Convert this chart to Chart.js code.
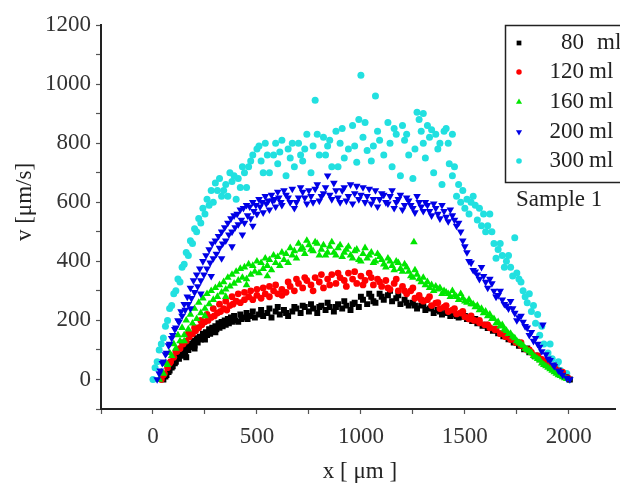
<!DOCTYPE html>
<html><head><meta charset="utf-8">
<script src="https://cdn.jsdelivr.net/npm/chart.js@4.4.0/dist/chart.umd.min.js"></script>
<style>html,body{margin:0;padding:0;background:#fff;} #wrap{width:620px;height:487px;position:relative;}</style>
</head><body><div id="wrap"><canvas id="c" width="620" height="487"></canvas></div>
<script>
const seriesLabels = ['80', '120', '160', '200', '300'];
const unitLabel = 'ml';
const sampleLabel = 'Sample 1';
const xTitle = 'x [ \u03bcm ]';
const yTitle = 'v [\u03bcm/s]';
const xTickValues = [-250,0,250,500,750,1000,1250,1500,1750,2000];
const yTickValues = [-100,0,100,200,300,400,500,600,700,800,900,1000,1100,1200];

const s80 = [[50,0],[65,15],[80,30],[95,45],[110,60],[125,70],[140,80],[155,90],[170,100],[185,110],[200,115],[215,125],[230,135],[245,140],[260,150],[275,155],[290,165],[305,170],[320,175],[335,180],[350,185],[365,190],[380,195],[395,200],[410,195],[425,205],[440,210],[455,205],[470,215],[490,210],[510,220],[530,215],[550,225],[570,210],[590,230],[610,220],[630,235],[650,215],[670,230],[690,240],[710,225],[730,245],[750,230],[770,240],[790,225],[810,250],[830,235],[850,245],[870,230],[890,255],[910,240],[930,250],[950,235],[970,260],[990,245],[1010,270],[1030,255],[1050,280],[1070,260],[1090,290],[1110,270],[1130,285],[1150,265],[1170,275],[1190,255],[1210,270],[1230,250],[1250,260],[1270,240],[1290,250],[1310,235],[1330,240],[1350,225],[1370,235],[1390,220],[1410,225],[1430,215],[1450,220],[1470,210],[1490,212],[1510,205],[1535,198],[1560,190],[1585,182],[1610,174],[1635,165],[1660,156],[1685,146],[1710,136],[1735,125],[1760,114],[1785,102],[1810,92],[1835,80],[1860,68],[1885,56],[1910,44],[1935,31],[1960,19],[1985,8],[2005,0]];
const s80b = [[60,10],[75,25],[90,40],[105,55],[120,75],[135,85],[150,100],[160,75],[165,110],[180,120],[195,130],[200,105],[210,140],[225,145],[240,155],[250,135],[255,160],[270,170],[285,175],[300,160],[300,180],[315,190],[330,195],[345,200],[360,205],[375,210],[390,215],[420,220],[450,225],[480,230],[520,235],[560,240],[600,245],[640,225],[680,245],[720,250],[760,255],[800,245],[840,260],[880,245],[920,265],[960,255],[1000,280],[1040,290],[1060,265],[1100,280],[1140,300],[1180,285],[1220,260],[1260,250],[1300,255],[1340,245],[1380,230],[1420,230],[1460,215],[1500,215],[1550,205],[1600,185],[1650,170],[1700,150],[1750,125],[1800,105],[1850,80],[1900,55],[1950,30]];

const s120 = [[40,0],[55,20],[70,40],[85,60],[100,75],[115,95],[130,105],[145,120],[160,130],[175,145],[190,155],[205,165],[220,175],[235,185],[250,195],[265,200],[280,210],[295,215],[310,225],[325,230],[340,240],[355,235],[370,250],[385,255],[400,265],[420,260],[440,270],[460,280],[480,270],[500,285],[520,275],[540,290],[560,280],[580,300],[600,290],[620,305],[640,295],[660,315],[680,300],[700,325],[720,310],[740,335],[760,320],[780,345],[800,330],[820,310],[840,340],[860,355],[880,325],[900,345],[920,335],[940,360],[960,340],[980,325],[1000,350],[1020,335],[1040,360],[1060,320],[1080,340],[1100,315],[1120,335],[1140,305],[1160,325],[1180,300],[1200,315],[1220,290],[1240,300],[1260,275],[1280,285],[1300,265],[1320,270],[1340,250],[1360,258],[1380,240],[1400,245],[1420,230],[1440,235],[1460,222],[1480,225],[1500,212],[1520,205],[1545,200],[1570,192],[1595,185],[1620,175],[1645,168],[1670,155],[1695,145],[1720,135],[1745,125],[1770,115],[1795,102],[1820,92],[1845,80],[1870,68],[1895,55],[1920,42],[1945,30],[1970,18],[1995,5]];
const s120b = [[50,15],[80,55],[110,95],[140,125],[170,155],[200,175],[230,200],[260,220],[290,240],[320,255],[350,265],[380,280],[410,290],[440,295],[470,300],[500,305],[530,310],[560,315],[590,320],[620,285],[650,330],[690,340],[730,345],[770,300],[810,355],[850,320],[890,360],[930,315],[970,365],[1010,320],[1050,345],[1090,330],[1130,310],[1170,340],[1210,300],[1250,310],[1290,270],[1330,280],[1370,260],[1410,250],[1450,240],[1490,230],[1530,215],[1570,200],[1610,185],[1650,170],[1690,155],[1730,140],[1770,125],[1810,100],[1850,80],[1890,62],[1930,45],[1970,25]];

const s160 = [[30,0],[50,20],[70,50],[90,80],[110,105],[130,130],[150,150],[170,170],[190,190],[210,205],[230,225],[250,240],[270,255],[290,270],[310,280],[330,295],[350,305],[370,315],[390,325],[410,335],[430,345],[450,340],[470,355],[490,365],[510,360],[530,375],[550,385],[570,370],[590,395],[610,385],[630,405],[650,395],[670,420],[690,410],[710,440],[730,425],[750,455],[770,435],[790,460],[810,440],[830,420],[850,450],[870,430],[890,445],[910,415],[930,440],[950,420],[970,435],[990,405],[1010,425],[1030,410],[1050,430],[1070,400],[1090,415],[1110,390],[1130,410],[1150,385],[1170,400],[1190,375],[1210,390],[1230,365],[1250,345],[1255,465],[1270,355],[1290,330],[1310,320],[1330,310],[1350,300],[1370,305],[1390,290],[1410,295],[1430,280],[1450,285],[1470,270],[1490,275],[1510,260],[1530,255],[1550,245],[1570,235],[1590,225],[1610,215],[1630,205],[1650,190],[1670,180],[1690,170],[1710,155],[1730,145],[1750,130],[1770,120],[1790,105],[1810,95],[1830,80],[1850,70],[1870,55],[1890,45],[1910,35],[1930,25],[1950,15],[1970,8],[1990,2]];
const s160b = [[40,25],[60,55],[80,90],[100,120],[120,150],[140,175],[150,130],[160,200],[180,220],[200,240],[220,260],[240,275],[250,215],[260,290],[280,300],[300,310],[320,320],[340,330],[350,280],[360,345],[380,355],[400,365],[420,375],[440,380],[450,320],[460,390],[480,385],[500,400],[520,395],[540,410],[550,350],[560,405],[580,420],[600,415],[620,430],[640,425],[660,445],[680,435],[700,460],[720,445],[740,470],[760,440],[780,465],[800,420],[820,455],[840,430],[860,465],[880,420],[900,455],[920,430],[940,450],[960,410],[980,440],[1000,400],[1020,445],[1040,420],[1060,395],[1080,425],[1100,405],[1120,380],[1140,400],[1160,370],[1180,395],[1200,365],[1220,380],[1240,350],[1260,370],[1280,340],[1300,345],[1320,330],[1340,320],[1360,315],[1380,310],[1400,300],[1420,290],[1440,300],[1460,280],[1480,290],[1500,265],[1520,270],[1540,255],[1560,250],[1580,240],[1600,230],[1620,220],[1640,205],[1660,195],[1680,185],[1700,165],[1720,155],[1740,140],[1760,125],[1780,115],[1800,100],[1820,90],[1840,75],[1860,65],[1880,50],[1900,40],[1920,30],[1940,20],[1960,12],[1980,5]];

const s200 = [[20,0],[35,30],[50,60],[65,90],[80,120],[95,150],[110,175],[125,195],[140,215],[155,235],[170,255],[185,275],[200,295],[215,315],[230,335],[245,355],[260,375],[275,395],[290,410],[305,425],[320,445],[335,460],[350,470],[365,490],[380,500],[395,515],[410,525],[425,540],[440,530],[455,555],[470,545],[485,570],[500,560],[515,585],[530,565],[545,595],[560,575],[575,605],[590,585],[605,615],[620,590],[640,625],[660,600],[680,580],[700,615],[720,635],[740,595],[760,620],[780,645],[800,605],[820,630],[840,690],[860,610],[880,640],[900,600],[920,650],[940,620],[960,595],[980,655],[1000,625],[1020,600],[1040,645],[1060,610],[1080,585],[1100,630],[1120,600],[1140,620],[1160,580],[1180,610],[1200,575],[1220,615],[1240,590],[1260,565],[1280,600],[1300,570],[1320,590],[1340,555],[1360,580],[1380,545],[1400,570],[1420,535],[1440,555],[1460,520],[1480,500],[1500,450],[1520,400],[1540,370],[1560,355],[1580,380],[1600,330],[1620,340],[1640,300],[1660,285],[1680,270],[1700,250],[1720,265],[1740,225],[1760,210],[1780,195],[1800,175],[1820,160],[1840,140],[1860,110],[1875,185],[1890,85],[1910,65],[1930,45],[1950,30],[1970,15],[1990,5],[2005,0]];
const s200b = [[30,20],[45,55],[60,85],[75,115],[90,140],[105,170],[120,200],[135,230],[150,255],[165,280],[180,240],[180,310],[195,335],[210,355],[225,375],[230,290],[240,400],[255,420],[270,440],[280,350],[285,460],[300,470],[315,485],[330,410],[330,500],[345,515],[360,530],[375,545],[380,450],[390,555],[405,560],[420,575],[430,490],[435,580],[450,590],[465,585],[480,520],[480,600],[495,590],[510,610],[525,600],[540,620],[555,605],[570,625],[585,610],[600,635],[615,600],[630,640],[650,615],[670,645],[690,600],[710,650],[730,615],[750,640],[770,600],[790,660],[810,620],[830,650],[850,625],[870,665],[890,615],[910,640],[930,605],[950,660],[970,630],[990,610],[1010,650],[1030,620],[1050,595],[1070,640],[1090,610],[1110,625],[1130,595],[1150,640],[1170,600],[1190,625],[1210,590],[1230,605],[1250,580],[1270,620],[1290,585],[1310,600],[1330,570],[1350,595],[1370,560],[1390,590],[1410,550],[1430,575],[1450,540],[1470,530],[1490,470],[1510,430],[1530,395],[1550,365],[1570,340],[1590,350],[1610,310],[1630,325],[1650,280],[1670,300],[1690,255],[1710,240],[1730,240],[1750,200],[1770,215],[1790,180],[1810,150],[1830,130],[1850,120],[1870,95],[1900,70],[1925,50],[1960,25]];

const s300 = [[0,0],[20,60],[40,120],[60,180],[80,240],[100,290],[120,340],[140,380],[160,430],[180,470],[200,510],[220,545],[240,580],[260,610],[280,640],[290,600],[300,665],[320,680],[330,620],[340,640],[360,620],[370,700],[380,670],[400,610],[410,680],[420,650],[440,700],[450,650],[460,720],[480,760],[500,780],[520,740],[530,700],[540,800],[560,700],[580,760],[590,800],[600,730],[620,810],[640,690],[650,780],[660,750],[680,720],[700,800],[710,760],[720,740],[740,830],[760,700],[770,790],[780,945],[800,760],[820,820],[830,760],[840,790],[860,720],[880,840],[890,720],[900,800],[920,750],[940,780],[960,860],[980,735],[990,880],[1000,1030],[1010,820],[1030,775],[1050,740],[1060,790],[1070,960],[1090,810],[1110,760],[1130,870],[1140,800],[1150,720],[1170,830],[1190,690],[1200,860],[1210,810],[1230,760],[1250,680],[1260,780],[1270,905],[1280,880],[1290,840],[1300,800],[1310,750],[1320,860],[1330,820],[1340,845],[1350,700],[1360,830],[1370,780],[1380,800],[1390,660],[1400,840],[1410,850],[1420,800],[1425,730],[1440,690],[1450,720],[1460,620],[1480,600],[1490,640],[1500,580],[1520,560],[1530,600],[1540,620],[1560,540],[1570,580],[1580,520],[1600,500],[1610,520],[1620,560],[1640,460],[1650,410],[1660,440],[1680,420],[1690,380],[1700,400],[1720,380],[1730,350],[1740,480],[1760,340],[1770,330],[1780,300],[1800,260],[1810,290],[1820,230],[1840,190],[1850,220],[1860,150],[1880,120],[1900,90],[1920,70],[1940,50],[1960,30],[1980,15],[2000,0]];
const s300b = [[10,40],[30,100],[50,140],[70,200],[90,250],[110,300],[130,330],[150,390],[170,420],[190,460],[210,500],[230,530],[250,560],[270,590],[310,640],[350,660],[390,690],[430,720],[470,740],[510,790],[550,760],[610,770],[670,800],[730,780],[790,830],[850,810],[910,850],[970,790],[1020,870],[1080,840],[1160,850],[1220,830],[1300,900],[1440,830],[1470,660],[1510,610],[1550,590],[1590,560],[1630,500],[1670,460],[1710,420],[1750,360],[1790,280],[1830,250],[1870,180],[1910,120],[1950,60],[1990,20]];

const seriesData = [s80.concat(s80b), s120.concat(s120b), s160.concat(s160b), s200.concat(s200b), s300.concat(s300b)];
const colors = ['#000000', '#ff0000', '#00e600', '#0000e6', '#22e0e0'];
const pStyles = ['rect', 'circle', 'triangle', 'triangle', 'circle'];
const pRot = [0, 0, 0, 180, 0];
const pRad = [4.2, 3.4, 4.4, 4.4, 3.5];
const drawOrder = [3, 2, 1, 0, 4];

const FONT = '"Liberation Serif", "Times New Roman", serif';

const datasets = seriesData.map((d, i) => ({
  label: seriesLabels[i] + ' ' + unitLabel,
  data: d.map(p => ({x: p[0], y: p[1]})),
  backgroundColor: colors[i],
  borderColor: colors[i],
  borderWidth: 0,
  pointStyle: pStyles[i],
  rotation: pRot[i],
  pointRadius: pRad[i],
  pointHoverRadius: pRad[i],
  order: drawOrder[i]
}));

const extras = {
  id: 'extras',
  afterDraw(chart) {
    const ctx = chart.ctx;
    ctx.save();
    ctx.fillStyle = '#222';
    ctx.font = '23px ' + FONT;
    ctx.textAlign = 'center';
    ctx.textBaseline = 'middle';
    ctx.fillText(xTitle, 360, 472);
    ctx.save();
    ctx.translate(25, 202);
    ctx.rotate(-Math.PI / 2);
    ctx.fillText(yTitle, 0, 0);
    ctx.restore();

    ctx.fillStyle = '#fff';
    ctx.fillRect(505, 25, 130, 157);
    ctx.strokeStyle = '#222';
    ctx.lineWidth = 1.5;
    ctx.strokeRect(505.5, 25.5, 130, 157);
    const rows = [43, 72, 102, 132, 161];
    ctx.font = '23px ' + FONT;
    ctx.textBaseline = 'middle';
    for (let i = 0; i < 5; i++) {
      ctx.fillStyle = colors[i];
      Chart.helpers.drawPoint(ctx, {pointStyle: pStyles[i], rotation: pRot[i], radius: pRad[i] * 0.8, borderWidth: 0}, 519, rows[i]);
      ctx.fillStyle = '#222';
      ctx.textAlign = 'right';
      ctx.fillText(seriesLabels[i], 584, rows[i]);
      ctx.textAlign = 'left';
      ctx.fillText(unitLabel, i === 0 ? 597 : 589, rows[i]);
    }
    ctx.textAlign = 'left';
    ctx.fillText(sampleLabel, 516, 200);
    ctx.restore();
  }
};

new Chart(document.getElementById('c'), {
  type: 'scatter',
  data: {datasets},
  options: {
    responsive: false,
    animation: false,
    devicePixelRatio: 1,
    layout: {padding: {top: 25, right: 0, bottom: 0, left: 0}},
    plugins: {legend: {display: false}, tooltip: {enabled: false}},
    scales: {
      x: {
        type: 'linear', min: -250, max: 2225,
        afterBuildTicks: s => { s.ticks = xTickValues.map(v => ({value: v})); },
        afterFit: s => { s.height = 78; },
        ticks: {
          autoSkip: false, maxRotation: 0, padding: 9, color: '#333',
          font: {family: FONT, size: 23},
          callback: v => (v >= 0 && v % 500 === 0) ? String(v) : ''
        },
        grid: {display: true, drawOnChartArea: false, drawTicks: true, tickLength: 5, color: '#555', tickWidth: 1.2},
        border: {display: true, color: '#222', width: 2}
      },
      y: {
        type: 'linear', min: -100, max: 1200,
        afterBuildTicks: s => { s.ticks = yTickValues.map(v => ({value: v})); },
        afterFit: s => { s.width = 101; },
        ticks: {
          autoSkip: false, padding: 5, color: '#333',
          font: {family: FONT, size: 23},
          callback: v => (v >= 0 && v % 200 === 0) ? String(v) : ''
        },
        grid: {display: true, drawOnChartArea: false, drawTicks: true, tickLength: 5, color: '#555', tickWidth: 1.2},
        border: {display: true, color: '#222', width: 2}
      }
    }
  },
  plugins: [extras]
});
</script></body></html>
